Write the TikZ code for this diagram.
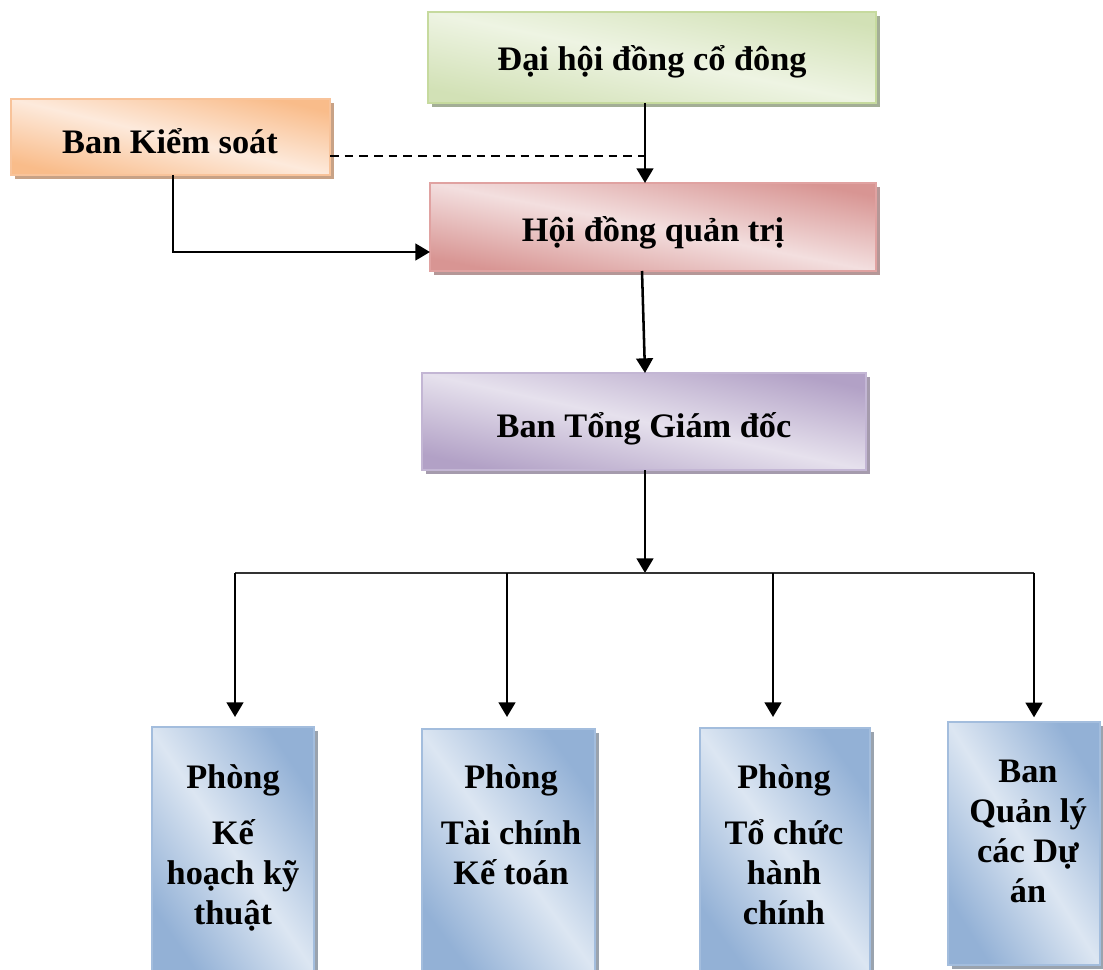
\documentclass[tikz,border=0pt]{standalone}
\usepackage{fontspec}
\setmainfont{Liberation Serif}
\usetikzlibrary{shadows,arrows.meta}
\definecolor{gD}{HTML}{D2E1B6}\definecolor{gL}{HTML}{EEF4E3}\definecolor{gB}{HTML}{C6DA9E}\definecolor{gS}{HTML}{A3AE96}
\definecolor{oD}{HTML}{F9BC8A}\definecolor{oL}{HTML}{FDEADC}\definecolor{oB}{HTML}{F8C39A}\definecolor{oS}{HTML}{C8A286}
\definecolor{rD}{HTML}{D89593}\definecolor{rL}{HTML}{F3DFDF}\definecolor{rB}{HTML}{E0A2A1}\definecolor{rS}{HTML}{B59797}
\definecolor{pD}{HTML}{B2A1C6}\definecolor{pL}{HTML}{E6E1ED}\definecolor{pB}{HTML}{C3B6D4}\definecolor{pS}{HTML}{A59BAD}
\definecolor{bD}{HTML}{93B1D6}\definecolor{bL}{HTML}{DCE6F2}\definecolor{bB}{HTML}{A3BDDD}\definecolor{bS}{HTML}{9AA3AE}
\tikzset{
  orgbox/.style n args={5}{draw=#3, line width=1.3pt, inner sep=0pt, outer sep=0pt,
    top color=#1, bottom color=#1, middle color=#2, shading angle=#5,
    drop shadow={shadow xshift=3.2pt, shadow yshift=-3.2pt, fill=#4, opacity=1}},
  boxtext/.style={font=\bfseries\fontsize{25.75}{30}\selectfont, align=center, inner sep=0pt},
  arr/.style={line width=1.9pt, -{Triangle[length=11pt,width=12.5pt]}},
  busline/.style={line width=1.2pt, draw=black!80},
}
\begin{document}
\begin{tikzpicture}[x=0.75pt,y=-0.75pt]
\path[use as bounding box] (0,0) rectangle (1103,970);
\begin{scope}
\clip (0,0) rectangle (1103,970);
% upper boxes
\node[orgbox={gD}{gL}{gB}{gS}{-11.5}, minimum width=448*0.75pt, minimum height=91*0.75pt] (dh) at (652,57.5) {};
\node[boxtext] (tdh) at (652,62) {Đại hội đồng cổ đông};
\node[orgbox={oD}{oL}{oB}{oS}{-13.4}, minimum width=319*0.75pt, minimum height=76*0.75pt] (bks) at (170.5,137) {};
\node[boxtext] (tbks) at (170,141) {Ban Kiểm soát};
\node[orgbox={rD}{rL}{rB}{rS}{-11.2}, minimum width=446*0.75pt, minimum height=88*0.75pt] (hd) at (653,227) {};
\node[boxtext] (thd) at (653,233) {Hội đồng quản trị};
\node[orgbox={pD}{pL}{pB}{pS}{-12.3}, minimum width=444*0.75pt, minimum height=97*0.75pt] (tgd) at (644,421.5) {};
\node[boxtext] (ttgd) at (644,429) {Ban Tổng Giám đốc};
% lower boxes
\node[orgbox={bD}{bL}{bB}{bS}{-56}, minimum width=162*0.75pt, minimum height=248*0.75pt] (p1) at (233,851) {};
\node[orgbox={bD}{bL}{bB}{bS}{-54}, minimum width=173*0.75pt, minimum height=246*0.75pt] (p2) at (508.5,852) {};
\node[orgbox={bD}{bL}{bB}{bS}{-54.6}, minimum width=170*0.75pt, minimum height=247*0.75pt] (p3) at (785,851.5) {};
\node[orgbox={bD}{bL}{bB}{bS}{-58}, minimum width=152*0.75pt, minimum height=243*0.75pt] (p4) at (1024,843.5) {};
\node[boxtext, anchor=north] (t1) at (233,764) {Phòng\\[12pt]Kế\\hoạch kỹ\\thuật};
\node[boxtext, anchor=north] (t2) at (511,764) {Phòng\\[12pt]Tài chính\\Kế toán};
\node[boxtext, anchor=north] (t3) at (784,764) {Phòng\\[12pt]Tổ chức\\hành\\chính};
\node[boxtext, anchor=north] (t4) at (1028,760) {Ban\\Quản lý\\các Dự\\án};
\end{scope}
% connectors
\coordinate (dj) at (645,156);
\coordinate (kj) at (173,252);
\coordinate (bus) at (645,573);
\coordinate (d1) at (235,573);
\coordinate (d2) at (507,573);
\coordinate (d3) at (773,573);
\coordinate (d4) at (1034,573);
\draw[arr] (dh.south -| dj) -- (hd.north -| dj);
\draw[line width=1.1pt, dashed, dash pattern=on 6.5pt off 4.5pt] (bks.east |- dj) -- (dj);
\draw[arr] (bks.south -| kj) |- (hd.west |- kj);
\draw[arr] (hd.south -| 642,0) -- (tgd.north -| bus);
\draw[arr] (tgd.south -| bus) -- (bus);
\draw[busline] (d1) -- (d4);
\draw[arr, shorten >=7.5pt] (d1) -- (d1 |- p1.north);
\draw[arr, shorten >=7.5pt] (d2) -- (d2 |- p1.north);
\draw[arr, shorten >=7.5pt] (d3) -- (d3 |- p1.north);
\draw[arr, shorten >=3.5pt] (d4) -- (d4 |- p4.north);
\end{tikzpicture}
\end{document}
